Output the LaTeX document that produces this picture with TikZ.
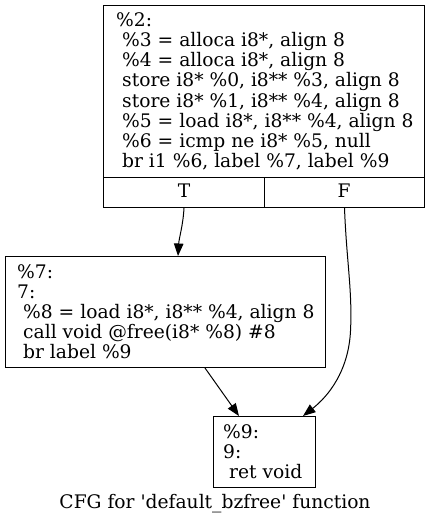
\documentclass[tikz,border=0pt]{standalone}
\usepackage{fontspec}
\setmainfont{DejaVu Serif}[Ligatures=TeXOff]
\usetikzlibrary{arrows.meta}
\tikzset{
  blk/.style={draw, line width=1pt, inner sep=0pt, anchor=north west},
  txt/.style={anchor=base west, inner sep=0pt, font=\fontsize{18.67}{20}\selectfont},
  ctxt/.style={anchor=base, inner sep=0pt, font=\fontsize{18.67}{20}\selectfont},
  edge/.style={line width=1pt, -{Triangle[length=12.5pt,width=9.5pt]}}
}
\begin{document}
\begin{tikzpicture}[x=1pt,y=-1pt]
\useasboundingbox (0,0) rectangle (429,524);
% top block
\node[blk, minimum width=321pt, minimum height=172pt] (n2) at (103,5) {};
\node[blk, minimum width=161pt, minimum height=30pt] (cT) at (103,177) {};
\node[blk, minimum width=160pt, minimum height=30pt] (cF) at (264,177) {};
\node[ctxt] (lT) at (184,197) {T};
\node[ctxt] (lF) at (344,197) {F};
\node[txt] (a1) at (116,27) {\%2:};
\node[txt] (a2) at (122,47) {\%3 = alloca i8*, align 8};
\node[txt] (a3) at (122,67) {\%4 = alloca i8*, align 8};
\node[txt] (a4) at (122,87) {store i8* \%0, i8** \%3, align 8};
\node[txt] (a5) at (122,107) {store i8* \%1, i8** \%4, align 8};
\node[txt] (a6) at (122,127) {\%5 = load i8*, i8** \%4, align 8};
\node[txt] (a7) at (122,147) {\%6 = icmp ne i8* \%5, null};
\node[txt] (a8) at (122,167) {br i1 \%6, label \%7, label \%9};
% block 7
\node[blk, minimum width=320pt, minimum height=111pt] (n7) at (5,256) {};
\node[txt] (b1) at (17,278) {\%7:};
\node[txt] (b2) at (17,298) {7:};
\node[txt] (b3) at (23,318) {\%8 = load i8*, i8** \%4, align 8};
\node[txt] (b4) at (23,338) {call void @free(i8* \%8) \#8};
\node[txt] (b5) at (23,358) {br label \%9};
% block 9
\node[blk, minimum width=102pt, minimum height=71pt] (n9) at (213,416) {};
\node[txt] (c1) at (223,438) {\%9:};
\node[txt] (c2) at (223,458) {9:};
\node[txt] (c3) at (229,478) {ret void};
% caption
\node[ctxt] (cap) at (215,508) {CFG for 'default\_bzfree' function};
% edges
\draw[edge] (cT.south) .. controls ([xshift=-1pt,yshift=-18pt]cT.south) and ([xshift=174pt,yshift=18pt]n7.north west) .. ([xshift=173pt]n7.north west);
\draw[edge] (cF.south) .. controls ([xshift=2pt,yshift=-53pt]cF.south) and ([xshift=8pt,yshift=-83pt]cF.south) .. ([xshift=6pt,yshift=-123pt]cF.south) .. controls ([xshift=4pt,yshift=-163pt]cF.south) and ([xshift=-16pt,yshift=-188pt]cF.south) .. ([xshift=90pt]n9.north west);
\draw[edge] ([xshift=200pt]n7.south west) -- ([xshift=26pt]n9.north west);
\end{tikzpicture}
\end{document}
